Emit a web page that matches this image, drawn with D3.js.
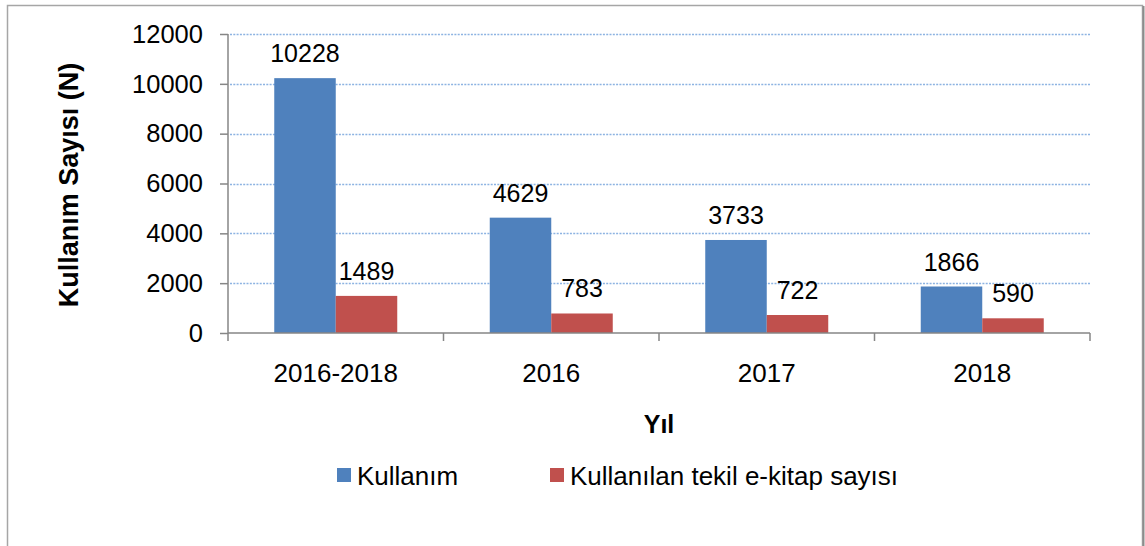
<!DOCTYPE html>
<html>
<head>
<meta charset="utf-8">
<script src="https://cdn.jsdelivr.net/npm/d3@7"></script>
<style>
  body { margin: 0; background: #fff; }
  text { font-family: "Liberation Sans", Arial, sans-serif; fill: #000; }
</style>
</head>
<body>
<div id="chart"></div>
<script>
// data
let categories = ["2016-2018", "2016", "2017", "2018"];
let seriesNames = ["Kullanım", "Kullanılan tekil e-kitap sayısı"];
let usage = [10228, 4629, 3733, 1866];
let uniqueBooks = [1489, 783, 722, 590];
let yTicks = [0, 2000, 4000, 6000, 8000, 10000, 12000];
let colors = ["#4f81bd", "#c0504d"];

let seriesValues = [usage, uniqueBooks];

let width = 1145, height = 546;

let svg = d3.select("#chart").append("svg")
    .attr("width", width)
    .attr("height", height);

// outer frame
svg.append("rect")
    .attr("x", 7.5).attr("y", 5.5)
    .attr("width", 1135).attr("height", 570)
    .attr("fill", "#fff")
    .attr("stroke", "#a6a6a6")
    .attr("stroke-width", 1.5);
svg.append("line")
    .attr("x1", 1143.5).attr("x2", 1143.5)
    .attr("y1", 6).attr("y2", height)
    .attr("stroke", "#8c8c8c").attr("stroke-width", 2);

// scales
let x0 = d3.scaleBand()
    .domain(categories)
    .range([228, 1090])
    .padding(0);

let x1 = d3.scaleBand()
    .domain(seriesNames)
    .range([0, x0.bandwidth()])
    .paddingInner(0)
    .paddingOuter(0.752);

let y = d3.scaleLinear()
    .domain([0, 12000])
    .range([333, 34]);

// gridlines
svg.append("g")
    .selectAll("line")
    .data(yTicks.filter(d => d > 0))
    .join("line")
    .attr("x1", 230).attr("x2", 1090)
    .attr("y1", d => Math.round(y(d)) + 0.5)
    .attr("y2", d => Math.round(y(d)) + 0.5)
    .attr("stroke", "#8db3e2")
    .attr("stroke-width", 1.5)
    .attr("stroke-dasharray", "2,1.3");

// bars
let groups = svg.append("g")
    .selectAll("g")
    .data(categories)
    .join("g")
    .attr("transform", d => "translate(" + x0(d) + ",0)");

seriesNames.forEach(function (s, si) {
    groups.append("rect")
        .attr("x", x1(s))
        .attr("y", (d, i) => y(seriesValues[si][i]))
        .attr("width", x1.bandwidth())
        .attr("height", (d, i) => y(0) - y(seriesValues[si][i]))
        .attr("fill", colors[si]);

    groups.append("text")
        .attr("x", x1(s) + x1.bandwidth() / 2)
        .attr("y", (d, i) => y(seriesValues[si][i]) - 16)
        .attr("text-anchor", "middle")
        .style("font-size", "25px")
        .text((d, i) => seriesValues[si][i]);
});

// y axis
let yAxis = svg.append("g")
    .attr("transform", "translate(228,0)")
    .call(d3.axisLeft(y).tickValues(yTicks).tickSize(8).tickPadding(17).tickFormat(d3.format("d")));
yAxis.selectAll("line, path").attr("stroke", "#868686").attr("stroke-width", 1.5);
yAxis.select(".domain").attr("d", "M0,34V333");
yAxis.selectAll("text")
    .style("font-size", "25.5px")
    .style("font-family", "'Liberation Sans', Arial, sans-serif")
    .attr("fill", "#000");

// x axis
let xAxis = svg.append("g")
    .attr("transform", "translate(0,333)");
xAxis.append("line")
    .attr("x1", 228).attr("x2", 1090)
    .attr("stroke", "#868686").attr("stroke-width", 1.5);
xAxis.selectAll(".tk")
    .data(categories.map(c => x0(c)).concat([x0.range()[1]]))
    .join("line")
    .attr("class", "tk")
    .attr("x1", d => d).attr("x2", d => d)
    .attr("y1", 0).attr("y2", 8)
    .attr("stroke", "#868686").attr("stroke-width", 1.5);
xAxis.selectAll(".lbl")
    .data(categories)
    .join("text")
    .attr("class", "lbl")
    .attr("x", d => x0(d) + x0.bandwidth() / 2)
    .attr("y", 49)
    .attr("text-anchor", "middle")
    .style("font-size", "26px")
    .text(d => d);

// axis titles
svg.append("text")
    .attr("x", 659).attr("y", 433)
    .attr("text-anchor", "middle")
    .style("font-size", "25px")
    .style("font-weight", "bold")
    .text("Yıl");

svg.append("text")
    .attr("transform", "translate(78,185) rotate(-90)")
    .attr("text-anchor", "middle")
    .style("font-size", "27px")
    .style("font-weight", "bold")
    .text("Kullanım Sayısı (N)");

// legend
let legendX = [337, 550];
let legend = svg.append("g")
    .selectAll("g")
    .data(seriesNames)
    .join("g")
    .attr("transform", (d, i) => "translate(" + legendX[i] + ",468)");
legend.append("rect")
    .attr("width", 14).attr("height", 14)
    .attr("fill", (d, i) => colors[i]);
legend.append("text")
    .attr("x", 20).attr("y", 17)
    .style("font-size", "26px")
    .text(d => d);
</script>
</body>
</html>
